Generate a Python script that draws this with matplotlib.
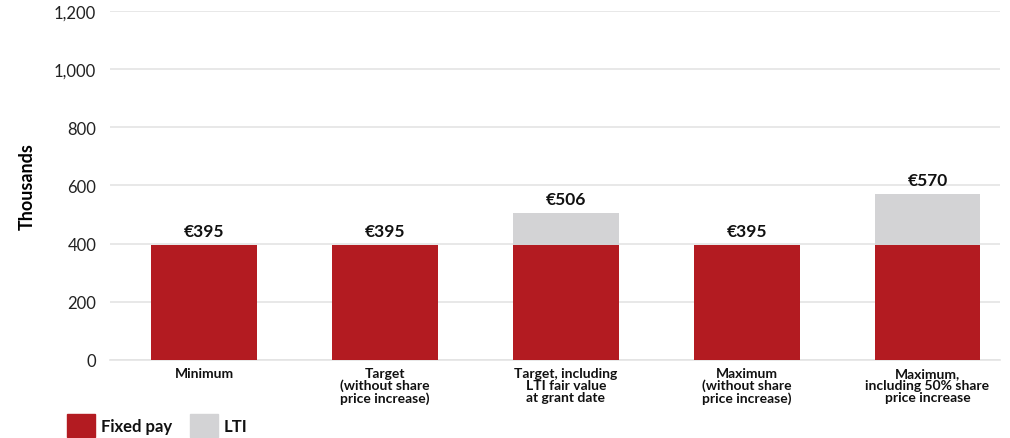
import matplotlib.pyplot as plt
import numpy as np

plt.rcParams['font.family'] = ['Lato', 'DejaVu Sans']

# data
categories = ["Minimum", "Target\n(without share\nprice increase)",
              "Target, including\nLTI fair value\nat grant date",
              "Maximum\n(without share\nprice increase)",
              "Maximum,\nincluding 50% share\nprice increase"]
fixed_pay = [395, 395, 395, 395, 395]
lti = [0, 0, 111, 0, 175]
totals = [395, 395, 506, 395, 570]

red = '#B31B21'
grey = '#D3D3D5'

fig = plt.figure(figsize=(10.1, 4.39), dpi=100)
ax = fig.add_axes([0.109, 0.178, 0.881, 0.795])

x = np.arange(len(categories))
w = 0.585
ax.bar(x, fixed_pay, w, color=red, zorder=3)
ax.bar(x, lti, w, bottom=fixed_pay, color=grey, zorder=3)

for xi, t in zip(x, totals):
    ax.text(xi, t + 20, f"€{t}", ha='center', va='bottom',
            fontsize=12.5, fontweight='bold', color='#111111')

ax.set_xlim(-0.52, 4.40)
ax.set_ylim(0, 1200)
ax.set_yticks(range(0, 1201, 200))
ax.set_yticklabels([f"{v:,}" for v in range(0, 1201, 200)])
ax.grid(axis='y', color='#E4E4E4', linewidth=1.2, zorder=0)
ax.tick_params(axis='y', length=0, labelsize=12, pad=10, colors='#222222')
ax.tick_params(axis='x', length=0, pad=5)
ax.set_xticks(x)
ax.set_xticklabels(categories, fontsize=10, fontweight='bold',
                   linespacing=1.0, color='#111111')
for s in ['top', 'right', 'left']:
    ax.spines[s].set_visible(False)
ax.spines['bottom'].set_color('#E4E4E4')
ax.spines['bottom'].set_linewidth(1.2)

ax.set_ylabel("Thousands", fontsize=13, fontweight='bold')
ax.yaxis.set_label_coords(-0.083, 0.5)

# legend
fig.patches.append(plt.Rectangle((67 / 1010, 1 / 439), 28 / 1010, 23 / 439,
                                 transform=fig.transFigure, color=red))
fig.text(101 / 1010, 12 / 439, "Fixed pay", fontsize=12, fontweight='bold',
         va='center', ha='left', color='#111111')
fig.patches.append(plt.Rectangle((190 / 1010, 1 / 439), 28 / 1010, 23 / 439,
                                 transform=fig.transFigure, color=grey))
fig.text(224 / 1010, 12 / 439, "LTI", fontsize=12, fontweight='bold',
         va='center', ha='left', color='#111111')

fig.savefig('out.png', dpi=100)
